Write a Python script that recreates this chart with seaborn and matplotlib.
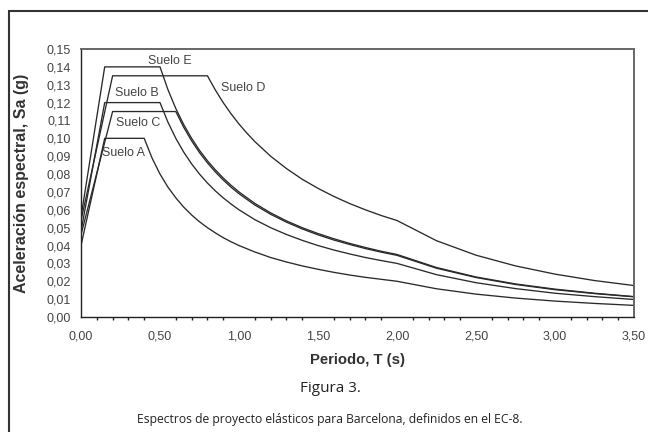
import matplotlib
matplotlib.use("Agg")
import matplotlib.pyplot as plt
from matplotlib.patches import Rectangle
from matplotlib.ticker import MultipleLocator, FuncFormatter
import seaborn as sns
import pandas as pd

# ---- data (Sa in g, T in s) ----
T_A = [0.00, 0.15, 0.40, 0.45, 0.50, 0.55, 0.60, 0.65, 0.70, 0.75, 0.80, 0.85, 0.90, 0.95, 1.00,
       1.10, 1.20, 1.30, 1.40, 1.50, 1.60, 1.70, 1.80, 1.90, 2.00, 2.25, 2.50, 2.75, 3.00, 3.25, 3.50]
Sa_A = [0.040, 0.100, 0.100, 0.0889, 0.0800, 0.0727, 0.0667, 0.0615, 0.0571, 0.0533, 0.0500, 0.0471,
        0.0444, 0.0421, 0.0400, 0.0364, 0.0333, 0.0308, 0.0286, 0.0267, 0.0250, 0.0235, 0.0222, 0.0211,
        0.0200, 0.0158, 0.0128, 0.0106, 0.0089, 0.0076, 0.0065]

T_B = [0.00, 0.15, 0.50, 0.55, 0.60, 0.65, 0.70, 0.75, 0.80, 0.85, 0.90, 0.95, 1.00,
       1.10, 1.20, 1.30, 1.40, 1.50, 1.60, 1.70, 1.80, 1.90, 2.00, 2.25, 2.50, 2.75, 3.00, 3.25, 3.50]
Sa_B = [0.048, 0.120, 0.1200, 0.1091, 0.1000, 0.0923, 0.0857, 0.0800, 0.0750, 0.0706, 0.0667, 0.0632,
        0.0600, 0.0545, 0.0500, 0.0462, 0.0429, 0.0400, 0.0375, 0.0353, 0.0333, 0.0316, 0.0300,
        0.0237, 0.0192, 0.0159, 0.0133, 0.0114, 0.0098]

T_C = [0.00, 0.20, 0.60, 0.65, 0.70, 0.75, 0.80, 0.85, 0.90, 0.95, 1.00,
       1.10, 1.20, 1.30, 1.40, 1.50, 1.60, 1.70, 1.80, 1.90, 2.00, 2.25, 2.50, 2.75, 3.00, 3.25, 3.50]
Sa_C = [0.046, 0.115, 0.1150, 0.1062, 0.0986, 0.0920, 0.0863, 0.0812, 0.0767, 0.0726, 0.0690,
        0.0627, 0.0575, 0.0531, 0.0493, 0.0460, 0.0431, 0.0406, 0.0383, 0.0363, 0.0345,
        0.0273, 0.0221, 0.0182, 0.0153, 0.0131, 0.0113]

T_D = [0.00, 0.20, 0.80, 0.85, 0.90, 0.95, 1.00, 1.05, 1.10, 1.20, 1.30, 1.40, 1.50, 1.60, 1.70,
       1.80, 1.90, 2.00, 2.25, 2.50, 2.75, 3.00, 3.25, 3.50]
Sa_D = [0.054, 0.135, 0.1350, 0.1271, 0.1200, 0.1137, 0.1080, 0.1029, 0.0982, 0.0900, 0.0831, 0.0771,
        0.0720, 0.0675, 0.0635, 0.0600, 0.0568, 0.0540, 0.0427, 0.0346, 0.0286, 0.0240, 0.0204, 0.0176]

T_E = [0.00, 0.15, 0.50, 0.55, 0.60, 0.65, 0.70, 0.75, 0.80, 0.85, 0.90, 0.95, 1.00,
       1.10, 1.20, 1.30, 1.40, 1.50, 1.60, 1.70, 1.80, 1.90, 2.00, 2.25, 2.50, 2.75, 3.00, 3.25, 3.50]
Sa_E = [0.056, 0.140, 0.1400, 0.1273, 0.1167, 0.1077, 0.1000, 0.0933, 0.0875, 0.0824, 0.0778, 0.0737,
        0.0700, 0.0636, 0.0583, 0.0538, 0.0500, 0.0467, 0.0438, 0.0412, 0.0389, 0.0368, 0.0350,
        0.0277, 0.0224, 0.0185, 0.0156, 0.0133, 0.0114]

labels = ["Suelo A", "Suelo B", "Suelo C", "Suelo D", "Suelo E"]
label_x = [0.266, 0.354, 0.361, 1.025, 0.563]
label_y = [0.0918, 0.1253, 0.1086, 0.1281, 0.1433]

x_label = "Periodo, T (s)"
y_label = "Aceleración espectral, Sa (g)"
fig_title = "Figura 3."
caption = "Espectros de proyecto elásticos para Barcelona, definidos en el EC-8."

series = [(T_A, Sa_A), (T_B, Sa_B), (T_C, Sa_C), (T_D, Sa_D), (T_E, Sa_E)]
frames = []
for name, (t, s) in zip(labels, series):
    frames.append(pd.DataFrame({"T": t, "Sa": s, "suelo": name}))
df = pd.concat(frames, ignore_index=True)

# ---- figure ----
sns.set_theme(style="white")
plt.rcParams["font.family"] = ["Liberation Sans", "DejaVu Sans"]

fig = plt.figure(figsize=(6.48, 4.32), dpi=100)
ax = fig.add_axes([81 / 648, 1 - 317 / 432, (634 - 81) / 648, (317 - 49) / 432])

sns.lineplot(data=df, x="T", y="Sa", units="suelo", estimator=None, sort=False,
             color="#2a2a2a", linewidth=0.95, ax=ax)

ax.set_xlim(0, 3.5)
ax.set_ylim(0, 0.15)
ax.xaxis.set_major_locator(MultipleLocator(0.5))
ax.xaxis.set_minor_locator(MultipleLocator(0.1))
ax.yaxis.set_major_locator(MultipleLocator(0.01))
fmt = FuncFormatter(lambda v, p: f"{v:.2f}".replace(".", ","))
ax.xaxis.set_major_formatter(fmt)
ax.yaxis.set_major_formatter(fmt)

ax.tick_params(axis="both", which="major", direction="inout", length=7, width=1,
               color="#222222", labelsize=9, labelcolor="#444444")
ax.tick_params(axis="x", which="major", pad=6)
ax.tick_params(axis="y", which="major", pad=4)
ax.tick_params(axis="x", which="minor", direction="out", length=2.5, width=1,
               color="#222222", bottom=True)

for side in ["left", "bottom"]:
    ax.spines[side].set_color("#222222")
    ax.spines[side].set_linewidth(1.0)
for side in ["top", "right"]:
    ax.spines[side].set_color("#666666")
    ax.spines[side].set_linewidth(1.4)
    ax.spines[side].set_visible(True)

ax.set_xlabel(x_label, fontsize=10.7, fontweight="bold", color="#333333", labelpad=8)
ax.set_ylabel(y_label, fontsize=11.5, fontweight="bold", color="#333333")
ax.yaxis.set_label_coords(-0.094, 0.5)

for lab, lx, ly in zip(labels, label_x, label_y):
    ax.text(lx, ly, lab, fontsize=9, color="#444444", ha="center", va="center")

fig.text(330 / 648, 1 - 389 / 432, fig_title, fontsize=11, color="#222222",
         ha="center", va="center", family=["Open Sans", "DejaVu Sans"])
fig.text(330 / 648, 1 - 419 / 432, caption, fontsize=8.7, color="#222222",
         ha="center", va="center", family=["Open Sans", "DejaVu Sans"])

border = Rectangle((9 / 648, -0.5), 2.0, (1 - 11 / 432) + 0.5, transform=fig.transFigure,
                   fill=False, edgecolor="#333333", linewidth=1.5, clip_on=False)
fig.patches.append(border)

fig.savefig("out.png", dpi=100)
